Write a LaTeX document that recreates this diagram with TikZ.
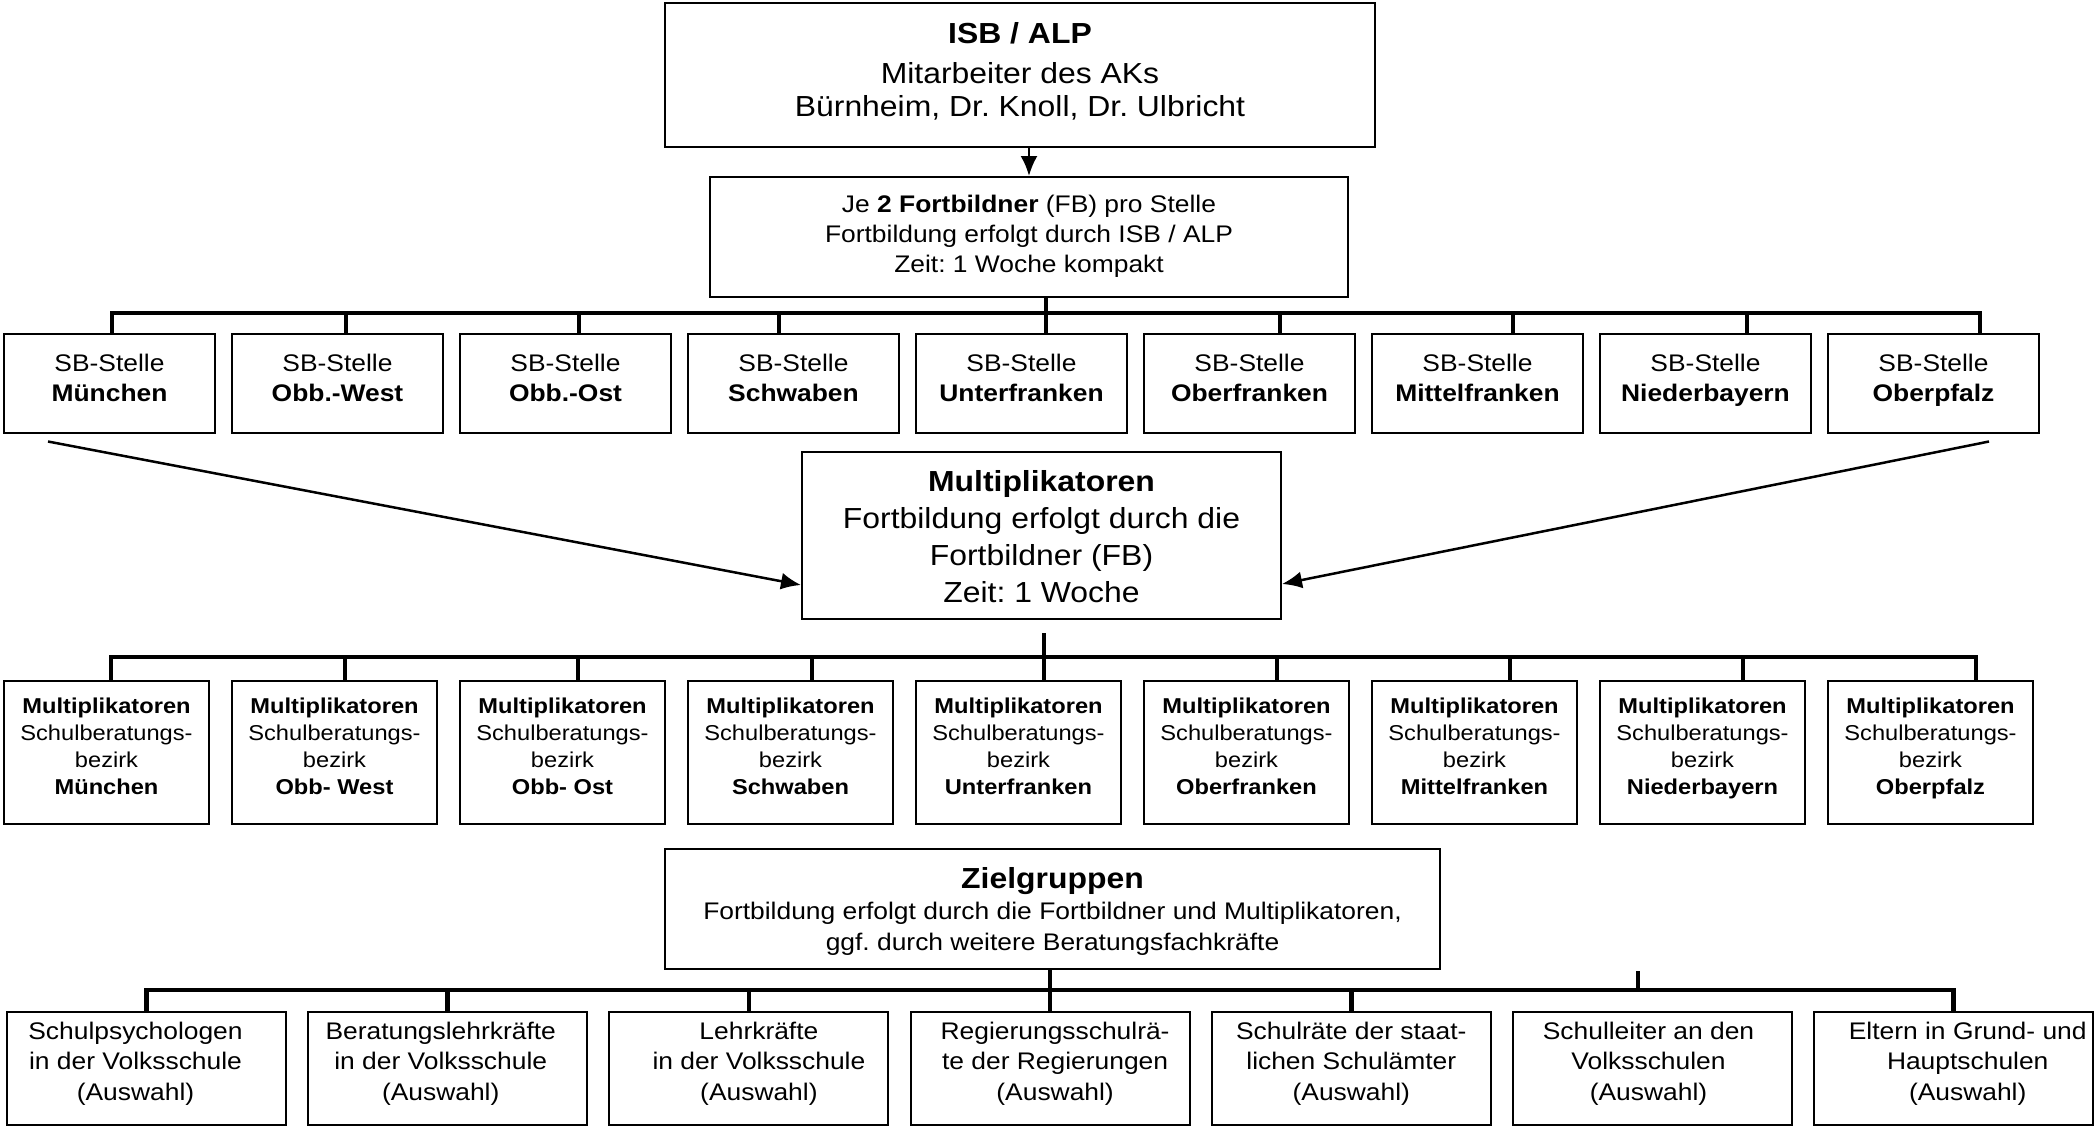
\documentclass[tikz,border=0pt]{standalone}
\usepackage{fontspec}
\setmainfont{Liberation Sans}[FakeStretch=1.1]
\usetikzlibrary{arrows.meta}
\frenchspacing
\begin{document}
\begin{tikzpicture}[x=1pt,y=-1pt,
  box/.style={draw,line width=2pt,inner sep=0pt,rectangle},
  txt/.style={inner sep=0pt,align=center,anchor=north},
  bus/.style={line width=4.5pt,line cap=rect},
  busthin/.style={line width=4pt,line cap=rect},
  drop/.style={line width=4.5pt},
  dropthin/.style={line width=3.5pt},
  arr/.style={line width=2.5pt,-{Latex[length=20pt,width=17pt]}},
]
\useasboundingbox (0,0) rectangle (2096,1128);

% ---------- top box
\node[box,minimum width=710pt,minimum height=144pt] (isb) at (1020,75) {};
\node[txt,font=\fontsize{29}{33}\selectfont] (isbt) at (1020,19.9)
  {\strut\textbf{ISB / ALP}\\[7pt]\strut Mitarbeiter des AKs\\\strut Bürnheim, Dr. Knoll, Dr. Ulbricht};

% ---------- Fortbildner box
\node[box,minimum width=638pt,minimum height=120pt] (fb) at (1029,237) {};
\node[txt,font=\fontsize{24}{30}\selectfont] (fbt) at (1029,191)
  {\strut Je \textbf{2 Fortbildner} (FB) pro Stelle\\\strut Fortbildung erfolgt durch ISB / ALP\\\strut Zeit: 1 Woche kompakt};

\draw[arr] (isb.south -| fb.north) -- (fb.north);

% ---------- SB-Stellen
\foreach \i/\nm/\dx in {0/München/112,1/Obb.-West/346,2/Obb.-Ost/579,3/Schwaben/779,4/Unterfranken/1046,5/Oberfranken/1280,6/Mittelfranken/1513,7/Niederbayern/1747,8/Oberpfalz/1980}{
  \node[box,minimum width=211pt,minimum height=99pt] (sb\i) at ({109.5+228*\i},383) {};
  \node[txt,font=\fontsize{24}{30}\selectfont] (sbt\i) at ({109.5+228*\i},350) {\strut SB-Stelle\\\strut\textbf{\nm}};
  \coordinate (sbd\i) at (\dx,313);
  \draw[dropthin] (sbd\i) -- (sbd\i |- sb\i.north);
}
\draw[busthin] (sbd0) -- (sbd8);
\draw[line width=4pt] (fb.south -| sbd4) -- (sbd4 |- sb4.north);

% ---------- Multiplikatoren main box
\node[box,minimum width=479pt,minimum height=167pt] (mp) at (1041.5,535.5) {};
\node[txt,font=\fontsize{29}{37}\selectfont] (mpt) at (1041.5,465.1)
  {\strut\textbf{Multiplikatoren}\\\strut Fortbildung erfolgt durch die\\\strut Fortbildner (FB)\\\strut Zeit: 1 Woche};

\draw[arr] ([xshift=45pt,yshift=-8pt]sb0.south west) -- ([yshift=35pt]mp.south west);
\draw[arr] ([xshift=-51pt,yshift=-8pt]sb8.south east) -- ([yshift=36pt]mp.south east);

% ---------- Multiplikatoren per Bezirk
\foreach \i/\nm/\dx in {0/München/111,1/Obb- West/345,2/Obb- Ost/578,3/Schwaben/812,4/Unterfranken/1044,5/Oberfranken/1277,6/Mittelfranken/1510,7/Niederbayern/1743,8/Oberpfalz/1976}{
  \node[box,minimum width=205pt,minimum height=143pt] (mu\i) at ({106.5+228*\i},752.5) {};
  \node[txt,font=\fontsize{21.5}{27}\selectfont] (mut\i) at ({106.5+228*\i},694.1)
    {\strut\textbf{Multiplikatoren}\\\strut Schulberatungs-\\\strut bezirk\\\strut\textbf{\nm}};
  \coordinate (mud\i) at (\dx,657);
  \draw[drop] (mud\i) -- (mud\i |- mu\i.north);
}
\draw[bus] (mud0) -- (mud8);
\coordinate (mpv) at (1044,633);
\draw[drop] (mpv) -- (mpv |- mu4.north);

% ---------- Zielgruppen main box
\node[box,minimum width=775pt,minimum height=120pt] (zg) at (1052.5,909) {};
\node[txt,font=\fontsize{24}{31}\selectfont] (zgt) at (1052.5,866.3)
  {\strut{\fontsize{29}{31}\selectfont\bfseries Zielgruppen}\\\strut Fortbildung erfolgt durch die Fortbildner und Multiplikatoren,\\\strut ggf. durch weitere Beratungsfachkräfte};

% ---------- Zielgruppen boxes
\foreach \i/\la/\lb/\off in {0/Schulpsychologen/in der Volksschule/-11,1/Beratungslehrkräfte/in der Volksschule/-7,2/Lehrkräfte/in der Volksschule/10,3/Regierungsschulrä-/te der Regierungen/5,4/Schulräte der staat-/lichen Schulämter/0,5/Schulleiter an den/Volksschulen/-4,6/Eltern in Grund- und/Hauptschulen/14}{
  \node[box,minimum width=279pt,minimum height=113pt] (z\i) at ({146.5+301.2*\i},1068.5) {};
  \node[txt,font=\fontsize{24}{30.5}\selectfont] (zt\i) at ({146.5+301.2*\i+\off},1017.65)
    {\strut\la\\\strut\lb\\\strut(Auswahl)};
  \coordinate (zd\i) at ({146.5+301.2*\i},990);
}
\foreach \i in {0,1,2,3,4,6}{
  \draw[drop] (zd\i) -- (zd\i |- z\i.north);
}
\draw[bus] (zd0) -- (zd6);
\draw[drop] (zg.south -| zd3) -- (zd3);
\coordinate (ztk) at (1638,971);
\draw[drop] (ztk) -- (ztk |- zd0);
\end{tikzpicture}
\end{document}
